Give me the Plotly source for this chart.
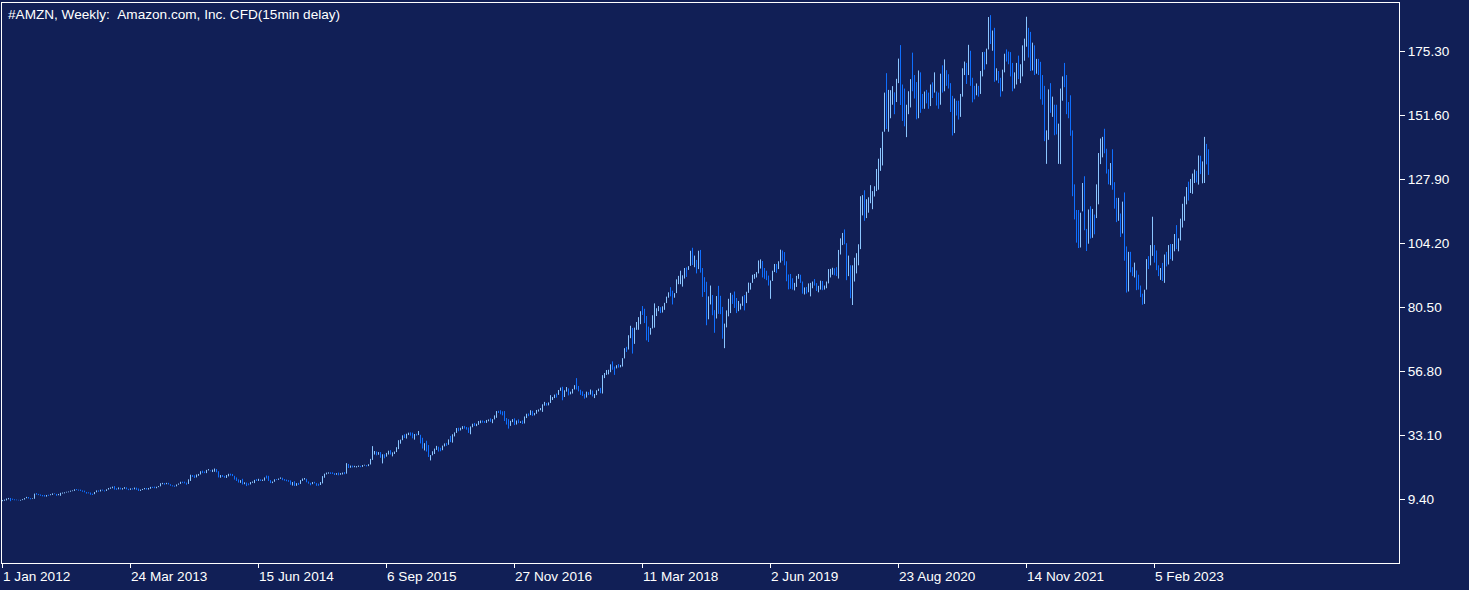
import plotly.graph_objects as go

# ---------------- data (weekly bars, split-adjusted USD) ----------------
first_open = 8.70

low = [
    # 2012
    8.6, 8.75, 8.9, 9.3, 8.6,  9.1, 8.95, 8.95, 8.9,  8.8, 9.0, 9.2, 9.7,  9.6, 9.3, 9.4, 9.5, 11.0,
    10.85, 10.6, 10.4, 10.3,  10.3, 10.6, 10.8, 10.9,  11.2, 10.6, 10.8, 10.6, 11.4,  11.5, 11.8, 11.9, 12.1,
    12.3, 12.4, 12.7, 12.5, 12.4,  12.1, 11.9, 11.4, 11.5,  11.0, 10.9, 11.2, 11.9,  12.1, 12.2, 12.5, 12.2, 12.4,
    # 2013
    12.9, 13.2, 13.4, 12.9,  12.8, 13.0, 12.95, 12.9,  13.2, 13.0, 12.7, 12.8, 12.9,  13.0, 12.8, 12.4, 12.4,
    12.75, 13.0, 12.9, 12.9,  13.2, 13.5, 13.4, 13.4, 13.8,  14.1, 14.9, 14.7, 14.9,  14.8, 14.3, 14.1, 13.9,
    14.1, 14.7, 15.0, 15.3, 15.2,  14.7, 15.0, 16.1, 17.6,  17.2, 17.4, 18.0, 18.5,  19.0, 19.0, 19.0, 20.0, 19.7,
    # 2014
    19.4, 19.5, 19.3, 17.4,  17.3, 17.6, 17.3, 17.2,  17.8, 18.1, 17.9, 16.6, 16.1,  15.5, 15.4, 14.8, 14.9,
    14.2, 14.5, 14.8, 15.4,  15.3, 16.1, 16.1, 16.1, 16.1,  16.2, 17.0, 16.1, 15.3,  15.3, 15.8, 16.4, 16.5, 16.9,
    16.4, 16.2, 16.0, 15.8,  14.7, 14.4, 14.2, 14.3,  14.6, 15.0, 16.1, 16.6, 15.6,  15.1, 14.5, 14.9, 15.2,
    # 2015
    14.3, 14.3, 14.6, 15.2,  17.3, 18.5, 18.8, 18.7,  18.7, 18.3, 18.4, 18.2, 18.4,  18.5, 18.6, 18.8, 20.9,
    21.0, 21.1, 21.2, 21.1, 21.3,  21.2, 21.3, 21.8, 21.5,  21.6, 22.2, 23.9, 25.9,  25.6, 25.8, 24.7, 22.6, 24.5,
    25.1, 25.9, 25.9, 25.2,  26.1, 26.8, 27.9, 29.9,  31.2, 32.0, 31.8, 33.1, 32.9,  31.9, 31.4, 32.9, 33.1,
    # 2016
    30.0, 28.1, 27.4, 27.0, 25.0,  23.7, 25.6, 26.1, 27.6,  27.0, 27.1, 27.5, 28.9,  29.1, 29.5, 30.5, 30.3,
    32.6, 33.9, 34.5, 34.8, 35.3,  35.5, 35.1, 33.9, 33.4,  36.0, 36.5, 36.4, 36.9, 37.5,  37.7, 37.6, 37.6, 38.2,
    38.0, 37.5, 38.9, 39.5,  41.3, 40.8, 40.4, 38.3, 37.0,  35.5, 36.5, 37.9, 36.8,  37.0, 37.5, 37.6, 37.2,
    # 2017
    37.4, 39.4, 40.1, 40.5, 40.2,  40.4, 41.0, 41.8,  42.3, 41.7,  44.0, 44.0, 44.1, 45.0,
    46.1, 46.8, 47.0, 48.0, 49.5,  46.0, 47.2, 49.2, 47.8,  48.2, 48.5, 50.0, 50.0, 49.3,  48.0, 47.6, 46.6, 47.0,
    47.9, 48.1, 47.4, 46.8,  47.9, 49.4, 48.6, 48.5, 54.2,  55.4, 55.6, 56.4, 57.3,  55.4, 57.8, 58.1, 58.2,
    # 2018
    58.5, 61.5, 63.9, 64.8, 69.0,  63.3, 66.9, 72.1, 72.1,  74.2, 77.6, 74.6, 68.2,  67.6, 70.3, 72.6, 72.9, 77.2,
    79.0, 78.3, 78.5, 79.5,  82.0, 84.0, 84.5, 81.5,  84.0, 85.7, 89.0, 89.0, 88.1,  91.1, 91.7, 94.3, 95.8,
    96.1, 95.3, 93.0, 94.6,  93.3, 84.3, 86.1, 73.8, 76.0,  81.5, 77.5, 71.0, 76.3,  78.0, 77.9, 68.8, 65.3,
    # 2019
    73.0, 77.1, 78.3, 81.7, 80.2,  78.3, 79.0, 79.6, 81.0,  79.3, 82.0, 85.8, 87.0,  89.5, 91.0, 91.5, 93.0, 94.8,
    91.5, 91.0, 90.5, 88.5,  83.6, 90.2, 93.5, 93.2,  94.6, 97.0, 97.7, 96.0, 90.1,  87.1, 87.3, 87.0, 86.7,
    88.0, 91.0, 89.5, 85.5, 85.2,  85.5, 86.0, 84.5, 87.5,  88.5, 86.5, 86.0, 87.0,  86.8, 87.0, 87.5, 89.3, 91.5,
    # 2020
    92.5, 92.3, 92.0, 91.1,  100.0, 103.5, 103.8, 90.5,  92.0, 83.8, 81.3, 90.0, 93.0,  96.0, 102.0, 114.5, 112.5,
    113.5, 115.5, 119.0, 116.8,  121.5, 123.5, 124.0, 131.0, 133.0,  145.5, 146.5, 145.5, 150.5,
    155.5, 152.0, 156.5, 163.5, 155.4,  149.5, 147.5, 143.5, 152.0,  154.5, 160.5, 157.8, 150.1,
    150.5, 152.5, 154.0, 154.0, 156.0,  154.0, 155.0, 158.0, 160.0,
    # 2021
    155.2, 154.0, 155.5, 160.0,  160.5, 162.5, 161.5, 152.8,  144.1, 145.0, 151.5, 150.0, 151.0,
    158.5, 166.5, 163.2, 166.5,  162.5, 156.4, 157.5, 159.0,  158.5, 159.5, 166.0, 168.5, 170.5,
    176.0, 178.0, 175.5, 164.0,  164.5, 163.5, 158.5, 160.5, 167.5,  171.5, 170.5, 166.0, 160.5,
    161.5, 163.0, 165.0, 163.5,  166.0, 171.8, 177.0, 173.0, 168.0,  168.2, 166.5, 167.0, 166.5,
    # 2022
    157.5, 155.5, 142.0, 133.6,  142.5, 152.5, 151.0, 144.2,  144.5, 133.6, 133.5, 157.0, 162.0,
    152.0, 150.5, 144.0, 121.6,  113.0, 104.4, 102.4, 102.6, 116.0,  109.0, 101.3, 104.0, 105.9,
    106.2, 107.5, 113.5, 118.6,  133.5, 136.0, 137.5, 130.0, 126.0,  125.7, 124.0, 117.0, 112.0,
    112.5, 106.5, 107.8, 97.7,  85.9, 86.3, 93.4, 92.0, 91.5,  86.8, 87.0, 84.2, 81.4,
    # 2023
    81.7, 87.0, 94.6, 96.0, 99.5,  97.0, 94.2, 92.0, 90.6,  90.2, 89.5, 95.6, 96.3,  98.3, 97.7, 101.2, 102.0,
    101.2, 105.2, 110.0, 112.5, 118.6,  120.0, 122.8, 122.5, 126.5,  126.7, 125.9, 129.8, 126.4,
    126.5, 133.4, 129.5,
]

high = [
    # 2012
    9.05, 9.2, 9.6, 9.8, 9.8,  9.55, 9.3, 9.2, 9.1,  9.1, 9.35, 9.75, 10.2,  10.15, 9.75, 9.65, 11.4, 11.6,
    11.3, 11.1, 10.9, 10.9,  10.9, 11.0, 11.2, 11.5,  11.5, 11.3, 11.3, 11.7, 11.8,  11.9, 12.1, 12.2, 12.5,
    12.6, 13.0, 13.1, 12.9, 12.9,  12.6, 12.5, 12.0, 11.9,  11.8, 11.4, 12.0, 12.6,  12.6, 12.85, 12.9, 12.6, 13.0,
    # 2013
    13.5, 13.7, 14.0, 14.2,  13.4, 13.7, 13.6, 13.45,  13.8, 13.7, 13.2, 13.35, 13.4,  13.65, 13.6, 13.3, 12.9,
    13.15, 13.5, 13.5, 13.5,  13.9, 13.95, 14.0, 13.95, 14.2,  15.25, 15.4, 15.35, 15.4,  15.4, 14.9, 14.5, 14.4,
    14.8, 15.15, 15.8, 15.85, 15.85,  15.5, 16.7, 18.4, 18.3,  18.2, 18.5, 18.7, 19.7,  19.9, 19.6, 20.2, 20.5, 20.0,
    # 2014
    20.3, 20.7, 20.5, 19.7,  18.3, 18.3, 18.0, 18.3,  18.75, 18.8, 18.7, 18.0, 17.4,  16.7, 16.4, 16.9, 15.6,
    15.5, 15.2, 15.7, 15.9,  16.5, 16.8, 16.9, 16.7, 16.6,  17.4, 18.1, 18.0, 16.4,  15.9, 16.7, 16.8, 17.0, 17.4,
    17.3, 16.8, 16.6, 16.4,  16.3, 15.7, 16.0, 15.3,  15.4, 16.4, 17.0, 17.2, 16.9,  15.9, 15.4, 15.7, 15.8,
    # 2015
    15.3, 15.1, 15.7, 17.9,  18.8, 19.2, 19.3, 19.3,  19.3, 19.0, 19.0, 19.2, 19.0,  19.2, 19.4, 22.7, 22.4,
    21.8, 21.8, 21.7, 21.6, 21.8,  21.7, 22.0, 22.1, 22.0,  22.3, 24.3, 29.0, 27.2,  27.0, 26.8, 26.8, 26.0, 26.0,
    26.5, 27.3, 27.5, 26.7,  27.0, 28.6, 31.2, 31.4,  33.0, 33.4, 33.6, 34.0, 34.1,  34.0, 33.5, 33.6, 34.6,
    # 2016
    33.2, 32.1, 30.1, 31.0, 29.4,  25.7, 27.1, 28.1, 29.1,  28.8, 28.4, 29.2, 30.0,  30.2, 31.5, 32.8, 33.4,
    34.1, 35.7, 35.8, 35.8, 36.4,  36.5, 36.1, 35.9, 36.3,  37.3, 37.6, 37.3, 38.3, 38.5,  38.5, 38.3, 38.7, 38.9,
    39.3, 39.0, 40.4, 42.0,  42.1, 42.3, 41.9, 42.0, 39.4,  39.0, 38.4, 39.0, 39.3,  38.5, 38.9, 38.2, 38.5,
    # 2017
    40.0, 41.0, 41.1, 42.3, 42.1,  41.3, 42.4, 42.6,  43.1, 44.5,  45.4, 45.0, 45.2, 47.9,
    47.2, 48.1, 48.5, 49.8, 50.7,  51.0, 49.7, 50.9, 50.4,  49.2, 50.2, 51.6, 54.2, 51.3,  49.9, 49.3, 48.3, 49.2,
    49.0, 50.0, 49.6, 48.3,  49.7, 50.3, 50.6, 55.3, 56.1,  57.2, 57.3, 59.3, 60.4,  58.5, 59.0, 59.4, 59.1,
    # 2018
    61.6, 65.3, 65.8, 70.1, 73.6,  72.8, 72.9, 75.0, 76.8,  79.0, 80.9, 79.9, 77.2,  73.3, 72.8, 77.5, 81.9, 80.1,
    80.9, 80.5, 80.8, 82.1,  84.4, 86.0, 87.9, 86.6,  85.7, 90.8, 92.1, 94.0, 92.3,  95.0, 95.2, 95.7, 101.4,
    102.5, 99.6, 98.0, 101.4,  101.7, 95.0, 91.6, 89.9, 84.5,  88.5, 85.0, 79.4, 84.6,  88.4, 84.7, 80.6, 74.4,
    # 2019
    79.3, 83.6, 85.8, 85.1, 86.3,  83.9, 82.8, 81.8, 84.5,  85.0, 86.2, 89.6, 89.5,  92.5, 92.8, 93.5, 97.8, 98.2,
    97.6, 95.0, 94.0, 92.2,  90.4, 94.0, 96.5, 96.5,  97.5, 101.8, 101.5, 100.9, 97.5,  92.6, 92.8, 91.2, 89.5,
    92.1, 92.8, 92.5, 90.0, 87.8,  88.0, 89.3, 89.5, 90.0,  90.9, 89.4, 88.4, 90.3,  90.2, 88.5, 90.0, 94.6, 94.7,
    # 2020
    95.1, 94.9, 95.3, 101.7,  106.0, 108.0, 109.3, 104.2,  99.6, 96.0, 96.0, 98.8, 100.5,  103.8, 121.6, 122.0, 123.8,
    120.5, 121.2, 125.7, 123.5,  125.3, 131.7, 135.5, 139.5, 145.5,  160.0, 167.2, 161.0, 160.9,
    162.4, 160.1, 165.1, 172.6, 177.6,  163.0, 161.5, 155.5, 160.5,  165.0, 174.8, 166.5, 163.9,
    168.2, 167.5, 159.5, 160.4, 161.0,  160.0, 163.0, 163.8, 167.5,
    # 2021
    160.4, 160.0, 167.0, 170.1,  172.3, 168.3, 166.8, 163.5,  158.8, 157.8, 157.0, 157.0, 159.5,
    169.0, 171.5, 171.0, 177.7,  175.5, 165.5, 162.5, 163.4,  162.5, 168.0, 175.0, 175.1, 176.3,
    188.0, 188.7, 183.0, 184.0,  169.0, 168.0, 165.5, 168.5, 174.4,  176.0, 175.2, 175.0, 171.0,
    167.5, 171.0, 173.7, 170.5,  177.5, 180.0, 188.1, 184.0, 182.5,  178.5, 177.5, 172.5, 172.5,
    # 2022
    171.4, 166.5, 162.5, 146.0,  161.2, 163.5, 158.5, 155.5,  155.5, 148.5, 161.5, 166.0, 171.0,
    166.5, 156.5, 159.0, 146.0,  126.0, 116.5, 116.5, 115.5, 126.5,  129.0, 109.5, 116.7, 117.9,
    116.9, 114.8, 126.0, 137.6,  143.0, 143.6, 146.6, 139.2, 131.6,  133.9, 139.0, 126.8, 121.0,
    121.0, 115.2, 119.6, 123.0,  103.0, 101.0, 101.0, 95.3, 97.0,  94.1, 92.5, 88.5, 85.5,
    # 2023
    86.96, 98.3, 99.4, 103.5, 114.0,  103.5, 101.5, 96.0, 95.0,  96.9, 100.0, 101.0, 103.5,  103.9, 103.9, 107.6, 110.9,
    106.0, 113.3, 118.8, 121.5, 125.0,  127.0, 128.0, 130.0, 131.5,  131.0, 136.7, 136.6, 134.5,
    143.6, 141.0, 139.0,
]

close = [
    # 2012
    8.88, 8.95, 9.55, 9.77, 9.38,  9.25, 9.1, 9.0, 9.0,  9.05, 9.28, 9.75, 10.13,  9.65, 9.48, 9.5, 11.35, 11.12,
    11.0, 10.65, 10.64, 10.4,  10.9, 10.85, 11.1, 11.42,  11.25, 10.8, 11.1, 11.67, 11.7,  11.9, 12.05, 12.1, 12.42,
    12.57, 12.95, 12.8, 12.73, 12.53,  12.23, 12.05, 11.91, 11.65,  11.32, 11.2, 12.0, 12.6,  12.33, 12.7, 12.5, 12.3, 12.95,
    # 2013
    13.45, 13.6, 13.8, 13.28,  13.1, 13.45, 13.25, 13.29,  13.7, 13.1, 12.85, 13.33, 13.05,  13.6, 12.9, 12.74, 12.75,
    13.1, 13.4, 12.93, 13.46,  13.85, 13.65, 13.65, 13.89, 14.1,  15.18, 15.25, 15.15, 15.28,  14.85, 14.3, 14.3, 14.05,
    14.78, 15.1, 15.7, 15.65, 15.55,  15.2, 16.5, 18.17, 18.15,  17.55, 18.45, 18.6, 19.68,  19.35, 19.2, 20.15, 20.22, 19.85,
    # 2014
    19.88, 19.98, 19.38, 17.93,  18.05, 17.85, 17.4, 18.1,  18.6, 18.5, 18.0, 16.9, 16.16,  15.85, 16.25, 15.19, 15.4,
    14.85, 14.85, 15.6, 15.63,  16.49, 16.37, 16.65, 16.22, 16.5,  17.3, 17.25, 16.2, 15.35,  15.84, 16.68, 16.58, 16.95, 17.3,
    16.55, 16.55, 16.15, 16.13,  14.7, 15.6, 14.35, 15.25,  14.95, 16.35, 16.9, 16.93, 15.8,  15.35, 15.0, 15.6, 15.43,
    # 2015
    14.84, 14.54, 15.62, 17.73,  18.72, 19.09, 19.18, 19.0,  19.0, 18.53, 18.93, 18.53, 18.6,  19.1, 18.78, 22.26, 21.15,
    21.69, 21.3, 21.38, 21.46, 21.54,  21.5, 21.75, 21.9, 21.89,  22.18, 24.15, 26.47, 26.8,  26.13, 26.58, 24.73, 25.9, 24.95,
    26.47, 27.0, 26.2, 26.63,  26.99, 28.54, 29.95, 31.3,  32.97, 32.12, 33.43, 33.67, 33.63,  32.01, 33.2, 33.14, 33.8,
    # 2016
    30.35, 28.5, 29.81, 29.36, 25.1,  25.35, 26.7, 27.76, 28.75,  27.93, 27.6, 29.15, 29.92,  29.73, 31.3, 31.03, 32.98,
    33.99, 35.5, 35.14, 35.61, 36.28,  35.9, 35.32, 34.95, 36.28,  37.29, 36.77, 37.25, 37.94, 38.3,  37.87, 37.87, 38.48, 38.62,
    38.0, 38.93, 40.24, 41.87,  41.86, 41.15, 41.15, 38.82, 37.76,  36.95, 38.01, 39.02, 37.01,  38.43, 37.89, 38.03, 37.5,
    # 2017
    39.8, 40.86, 40.42, 41.79, 40.51,  41.07, 42.26, 42.45,  42.62, 44.33,  44.74, 44.23, 44.93, 46.25,
    46.71, 48.07, 47.99, 49.79, 50.57,  48.92, 49.39, 50.19, 48.4,  48.94, 50.09, 51.28, 51.0, 49.38,  48.4, 47.92, 47.26, 48.91,
    48.3, 49.34, 47.76, 48.07,  49.48, 50.15, 49.15, 55.05, 55.58,  56.27, 56.49, 59.3, 58.12,  58.1, 58.96, 58.42, 58.47,
    # 2018
    61.46, 65.26, 64.73, 70.1, 71.5,  66.98, 72.43, 75.0, 75.01,  78.94, 78.58, 74.78, 72.37,  70.26, 71.54, 76.39, 78.63, 79.05,
    80.15, 78.72, 80.51, 82.08,  84.2, 85.8, 85.78, 84.99,  85.53, 90.65, 90.69, 90.86, 91.16,  94.32, 94.11, 95.27, 100.64,
    97.6, 98.51, 95.75, 100.15,  94.48, 89.43, 88.2, 82.14, 83.28,  85.62, 79.67, 75.84, 84.51,  81.46, 79.6, 68.87, 73.9,
    # 2019
    78.77, 82.03, 84.81, 83.53, 81.31,  79.41, 80.4, 81.58, 83.59,  81.04, 85.62, 88.24, 89.04,  91.86, 92.15, 93.08, 97.53, 98.12,
    94.5, 93.45, 91.16, 88.75,  90.2, 93.51, 95.56, 94.68,  97.15, 100.55, 98.23, 97.15, 91.16,  90.38, 89.63, 87.48, 88.81,
    91.68, 91.97, 89.71, 86.27, 86.98,  86.6, 87.88, 88.07, 89.57,  89.29, 86.97, 87.29, 90.04,  87.58, 88.05, 89.33, 93.49, 93.75,
    # 2020
    94.16, 93.24, 93.08, 100.44,  103.96, 106.74, 104.8, 94.19,  95.05, 89.25, 92.3, 95.0, 95.33,  102.14, 118.75, 120.51, 114.3,
    118.98, 120.49, 121.84, 122.12,  124.15, 127.25, 133.75, 134.64, 144.52,  160.0, 148.1, 150.44, 158.23,
    158.37, 157.41, 164.24, 170.09, 164.73,  155.81, 147.75, 154.76, 156.25,  164.33, 163.64, 160.22, 151.81,
    165.57, 156.44, 154.97, 159.77, 158.13,  155.82, 160.08, 158.63, 162.85,
    # 2021
    159.13, 155.21, 164.61, 160.31,  167.61, 163.89, 162.5, 154.65,  150.02, 154.47, 153.75, 152.6, 158.05,
    168.61, 169.97, 167.04, 173.37,  164.58, 161.15, 160.15, 161.51,  160.31, 167.34, 174.35, 170.07, 175.55,
    185.97, 178.68, 181.9, 166.38,  167.25, 164.7, 160.0, 167.48, 173.9,  173.46, 173.13, 171.28, 164.16,
    164.43, 170.45, 166.78, 168.62,  175.95, 176.26, 183.83, 175.23, 169.49,  176.16, 170.02, 171.07, 166.72,
    # 2022
    162.55, 162.14, 142.64, 143.98,  157.64, 153.3, 154.65, 153.79,  145.64, 146.82, 161.25, 164.77, 163.56,
    154.46, 151.71, 144.35, 124.28,  114.77, 113.06, 107.59, 115.15, 122.35,  109.65, 106.22, 116.46, 109.56,
    114.33, 113.55, 122.42, 134.95,  140.8, 143.55, 138.23, 130.38, 127.51,  133.27, 126.28, 118.01, 113.0,
    114.56, 106.9, 119.32, 103.41,  90.98, 100.79, 94.14, 93.41, 94.13,  89.09, 87.86, 85.25, 84.0,
    # 2023
    86.08, 98.12, 97.25, 102.24, 103.39,  97.61, 94.35, 93.5, 94.9,  90.73, 98.95, 98.13, 103.29,  102.06, 102.51, 106.96, 105.45,
    105.66, 110.26, 116.25, 120.11, 124.25,  123.43, 125.49, 129.33, 130.36,  128.2, 134.68, 130.0, 132.21,
    139.57, 138.41, 133.22,
]

x_tick_bars = [0, 64, 128, 192, 256, 320, 384, 448, 512, 576]
x_tick_labels = ["1 Jan 2012", "24 Mar 2013", "15 Jun 2014", "6 Sep 2015", "27 Nov 2016",
                 "11 Mar 2018", "2 Jun 2019", "23 Aug 2020", "14 Nov 2021", "5 Feb 2023"]
y_ticks = [9.40, 33.10, 56.80, 80.50, 104.20, 127.90, 151.60, 175.30]

title_text = "#AMZN, Weekly: \u00a0Amazon.com, Inc. CFD(15min delay)"

# ---------------- styling ----------------
BG = "#111F56"
UP = "#8CC6FF"
DOWN = "#0F6FFF"
FG = "#FFFFFF"
FONT = "Liberation Sans"
FS = 13.6

n = min(len(low), len(high), len(close))
low, high, close = low[:n], high[:n], close[:n]
opens = [first_open] + close[:-1]
bars = list(range(n))

fig = go.Figure()
fig.add_trace(go.Ohlc(
    x=bars, open=opens, high=high, low=low, close=close,
    increasing=dict(line=dict(color=UP, width=1)),
    decreasing=dict(line=dict(color=DOWN, width=1)),
    tickwidth=0, hoverinfo="skip", showlegend=False,
))

annotations = [
    dict(x=b, y=0, xref="x", yref="paper", text=t, showarrow=False,
         xanchor="left", yanchor="top", xshift=-2, yshift=-4,
         font=dict(family=FONT, size=FS, color=FG))
    for b, t in zip(x_tick_bars, x_tick_labels)
]
annotations.append(dict(x=0, y=1, xref="paper", yref="paper", text=title_text,
                        showarrow=False, xanchor="left", yanchor="top",
                        xshift=4, yshift=-2,
                        font=dict(family=FONT, size=FS, color=FG)))

fig.update_layout(
    width=1469, height=590,
    margin=dict(l=2, r=70, t=3, b=27, pad=0),
    paper_bgcolor=BG, plot_bgcolor=BG,
    font=dict(family=FONT, size=FS, color=FG),
    showlegend=False, hovermode=False,
    annotations=annotations,
    xaxis=dict(
        type="linear", range=[-0.25, 698.25], rangeslider=dict(visible=False),
        tickmode="array", tickvals=x_tick_bars, showticklabels=False,
        ticks="outside", ticklen=4, tickwidth=1, tickcolor=FG,
        showgrid=False, zeroline=False,
        showline=True, linecolor=FG, linewidth=1, mirror=True,
        fixedrange=True,
    ),
    yaxis=dict(
        side="right", range=[-14.3, 193.2],
        tickmode="array", tickvals=y_ticks, tickformat=".2f",
        ticks="outside", ticklen=5, tickwidth=1, tickcolor=FG,
        tickfont=dict(family=FONT, size=FS, color=FG),
        showgrid=False, zeroline=False,
        showline=True, linecolor=FG, linewidth=1, mirror=True,
        fixedrange=True,
    ),
)

fig.write_html("out.html", config={"displayModeBar": False, "staticPlot": True})
